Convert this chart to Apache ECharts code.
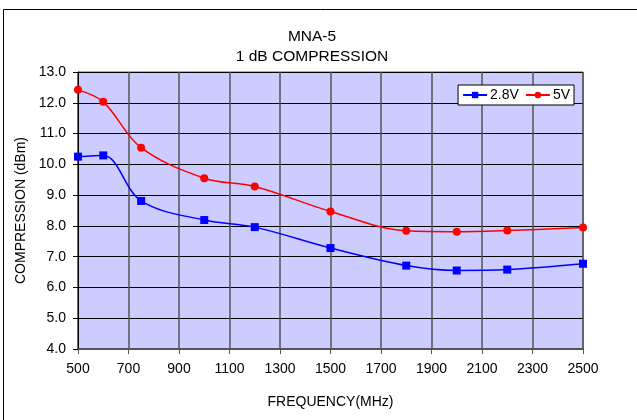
<!DOCTYPE html>
<html><head><meta charset="utf-8">
<script src="https://cdn.jsdelivr.net/npm/echarts@6/dist/echarts.min.js"></script>
<style>html,body{margin:0;padding:0;background:#fff}#c{width:637px;height:420px}</style>
</head><body><div id="c"></div>
<script>
const freqs = [500, 600, 750, 1000, 1200, 1500, 1800, 2000, 2200, 2500];
const v28 = [10.25, 10.29, 8.81, 8.19, 7.96, 7.28, 6.71, 6.55, 6.58, 6.77];
const v5 = [12.42, 12.03, 10.54, 9.55, 9.28, 8.47, 7.84, 7.81, 7.85, 7.95];
const seriesNames = ['2.8V', '5V'];
const titleLines = ['MNA-5', '1 dB COMPRESSION'];
const xName = 'FREQUENCY(MHz)';
const yName = 'COMPRESSION (dBm)';

const font = 'Liberation Sans, Arial, sans-serif';
const chart = echarts.init(document.getElementById('c'), null, {renderer: 'canvas'});
chart.setOption({
  animation: false,
  backgroundColor: '#fff',
  title: {
    text: titleLines.join('\n'),
    left: 307, top: 22, textAlign: 'center',
    textStyle: {fontFamily: font, fontSize: 15.5, fontWeight: 'normal', color: '#000', lineHeight: 20}
  },
  graphic: [{
    type: 'rect', shape: {x: 3.5, y: 9.5, width: 700, height: 500},
    style: {fill: 'none', stroke: '#000', lineWidth: 1}, silent: true, z: -1
  }],
  legend: {
    right: 63, top: 85, orient: 'horizontal',
    backgroundColor: '#fff', borderColor: '#000', borderWidth: 1, borderRadius: 0,
    padding: [3, 4, 3, 4], itemGap: 6, itemWidth: 24, itemHeight: 8,
    textStyle: {fontFamily: font, fontSize: 14, color: '#000', padding: [0, 0, 0, -2]},
    data: seriesNames
  },
  grid: {left: 78, top: 72, right: 54, bottom: 71, show: true, backgroundColor: '#ccccff', borderColor: '#555', borderWidth: 1},
  xAxis: {
    type: 'value', min: 500, max: 2500, interval: 200,
    name: xName, nameLocation: 'middle', nameGap: 46,
    nameTextStyle: {fontFamily: font, fontSize: 14, color: '#000'},
    axisLine: {show: true, lineStyle: {color: '#555', width: 2}},
    axisTick: {show: true, inside: false, length: 5, lineStyle: {color: '#555'}},
    axisLabel: {fontFamily: font, fontSize: 14, color: '#000', margin: 13, formatter: v => String(v)},
    splitLine: {show: true, lineStyle: {color: '#555', width: 1.5}}
  },
  yAxis: {
    type: 'value', min: 4, max: 13, interval: 1,
    name: yName, nameLocation: 'middle', nameGap: 46, nameRotate: 90,
    nameTextStyle: {fontFamily: font, fontSize: 14, color: '#000'},
    axisLine: {show: true, lineStyle: {color: '#000'}},
    axisTick: {show: true, inside: false, length: 5, lineStyle: {color: '#000'}},
    axisLabel: {fontFamily: font, fontSize: 14, color: '#000', margin: 12, formatter: v => v.toFixed(1)},
    splitLine: {show: true, lineStyle: {color: '#000', width: 1}}
  },
  series: [
    {
      name: seriesNames[0], type: 'line', smooth: 0.35,
      data: freqs.map((f, i) => [f, v28[i]]),
      symbol: 'rect', symbolSize: 8,
      itemStyle: {color: '#0000ff'}, lineStyle: {color: '#0000ff', width: 1.5}
    },
    {
      name: seriesNames[1], type: 'line', smooth: 0.35,
      data: freqs.map((f, i) => [f, v5[i]]),
      symbol: 'circle', symbolSize: 8,
      itemStyle: {color: '#ff0000'}, lineStyle: {color: '#ff0000', width: 1.5}
    }
  ]
});
</script></body></html>
